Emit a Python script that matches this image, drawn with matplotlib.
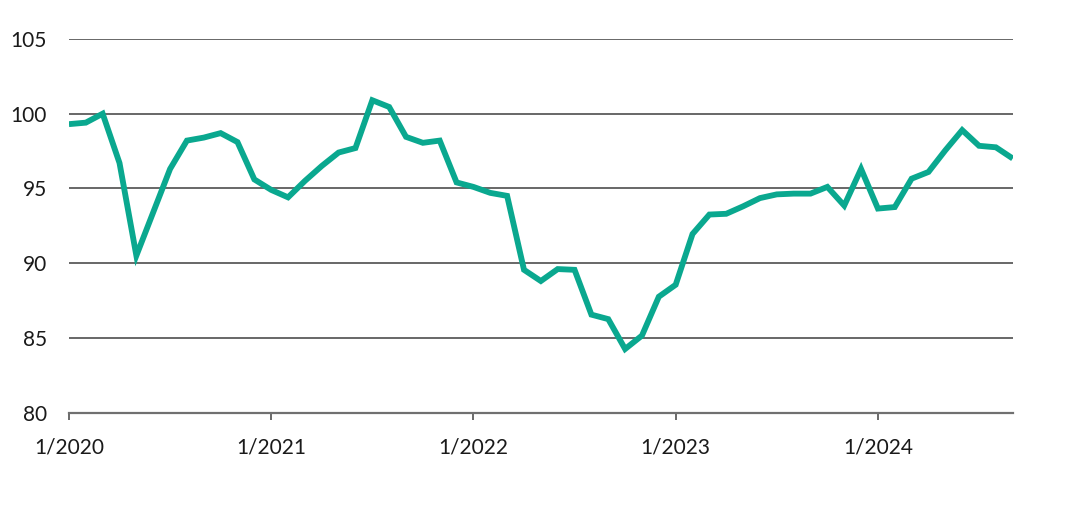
import numpy as np
import matplotlib
matplotlib.use("Agg")
import matplotlib.pyplot as plt

# --------------------------------------------------------
# Data (monthly index, 1/2020 .. 9/2024)
# --------------------------------------------------------
index_values = [
    99.3, 99.4, 100.0, 96.7, 90.5, 93.4, 96.3, 98.2, 98.4, 98.7, 98.1, 95.6,  # 2020
    94.9, 94.4, 95.5, 96.5, 97.4, 97.7, 100.9, 100.45, 98.45, 98.05, 98.2, 95.4,  # 2021
    95.1, 94.7, 94.5, 89.55, 88.8, 89.6, 89.55, 86.55, 86.25, 84.25, 85.15, 87.75,  # 2022
    88.55, 91.95, 93.25, 93.3, 93.8, 94.35, 94.6, 94.65, 94.65, 95.1, 93.85, 96.3,  # 2023
    93.65, 93.75, 95.65, 96.1, 97.55, 98.9, 97.85, 97.75, 97.0,  # 2024
]
tick_months = [0, 12, 24, 36, 48]
tick_labels = ["1/2020", "1/2021", "1/2022", "1/2023", "1/2024"]
y_ticks = [80, 85, 90, 95, 100, 105]

plt.rcParams["font.family"] = ["Lato", "DejaVu Sans"]

fig = plt.figure(figsize=(10.79, 5.13), dpi=100)
ax = fig.add_axes([0.0639, 0.1959, 0.8747, 0.7281])

x = np.arange(len(index_values))
ax.plot(x, index_values, color="#0aa88f", linewidth=4.2,
        solid_joinstyle="miter", solid_capstyle="butt", zorder=3)

ax.set_xlim(0, len(index_values) - 1)
ax.set_ylim(80, 105)
ax.set_yticks(y_ticks)
ax.set_yticklabels([str(v) for v in y_ticks])
ax.set_xticks(tick_months)
ax.set_xticklabels(tick_labels)

ax.grid(axis="y", color="#3f3f3f", linewidth=1.1, zorder=1)
ax.set_axisbelow(True)

for side in ["top", "right", "left"]:
    ax.spines[side].set_visible(False)
ax.spines["bottom"].set_color("#707070")
ax.spines["bottom"].set_linewidth(1.6)

ax.tick_params(axis="y", length=0, pad=16, labelsize=15, labelcolor="#1a1a1a")
ax.tick_params(axis="x", length=5, width=1.2, color="#505050", pad=13,
               labelsize=15, labelcolor="#1a1a1a")

fig.savefig("out.png", dpi=100)
